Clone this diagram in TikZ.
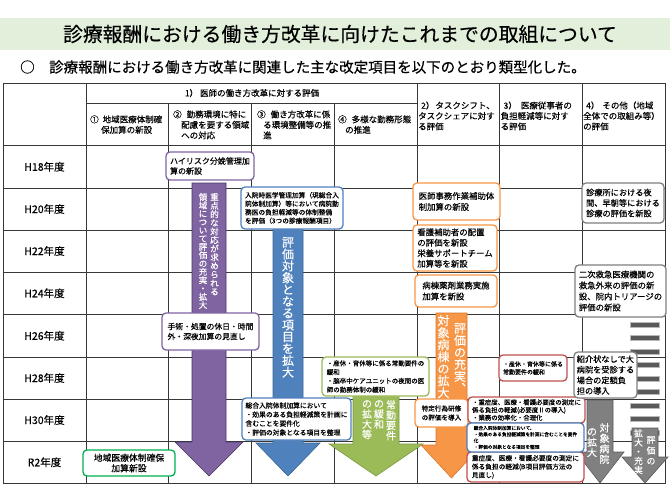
\documentclass[tikz,border=0pt]{standalone}
\usepackage{fontspec}
\setmainfont{Noto Sans CJK JP}[FakeBold=0.35]
\definecolor{titlebg}{RGB}{226,239,218}
\definecolor{purp}{RGB}{128,100,162}
\definecolor{purpd}{RGB}{70,52,98}
\definecolor{blu}{RGB}{79,129,189}
\definecolor{blud}{RGB}{60,100,150}
\definecolor{grn}{RGB}{155,187,89}
\definecolor{grnd}{RGB}{125,155,65}
\definecolor{org}{RGB}{247,150,70}
\definecolor{orgd}{RGB}{215,120,45}
\definecolor{redc}{RGB}{192,80,77}
\definecolor{gryf}{RGB}{128,128,128}
\definecolor{gryd}{RGB}{89,89,89}
\definecolor{gryb}{RGB}{127,127,127}
\definecolor{grn2}{RGB}{0,176,80}
\definecolor{gridc}{RGB}{55,55,55}

\ExplSyntaxOn
\NewDocumentCommand\vt{m}{
  \seq_clear:N \l_tmpa_seq
  \tl_map_inline:nn {#1} { \seq_put_right:Nn \l_tmpa_seq {##1} }
  \seq_use:Nn \l_tmpa_seq {\\}
}
\ExplSyntaxOff

\tikzset{
  box/.style={draw=#1, line width=1.3pt, rounded corners=4pt, fill=white, inner sep=1.5pt, align=left},
  fs/.style 2 args={font=\fontsize{#1}{#2}\selectfont},
  vtxt/.style 2 args={text=white, inner sep=0pt, align=center, anchor=north,
    font={\fontsize{#1}{#2}\selectfont\lineskiplimit=-20pt\lineskip=0pt}},
  gridl/.style={draw=gridc, line width=0.85pt},
  lbl/.style={font=\fontsize{10.5}{12}\selectfont, inner sep=0pt},
  hdr/.style={font=\fontsize{8.5}{10.5}\selectfont, inner sep=0pt, align=left, anchor=north west},
  blockarr/.style 2 args={fill=#1, draw=#2, line width=0.6pt},
}

\begin{document}
\begin{tikzpicture}[x=1pt,y=-1pt]
\useasboundingbox (0,0) rectangle (670,499);
\fill[white] (0,0) rectangle (670,499);

% title band
\fill[titlebg] (0,18) rectangle (670,50);
\node[font=\fontsize{19.8}{22}\selectfont, inner sep=0pt] (title) at (340,34) {診療報酬における働き方改革に向けたこれまでの取組について};
\node[font=\fontsize{14.5}{16}\selectfont, inner sep=0pt, anchor=west] (sub) at (20,67) {○　診療報酬における働き方改革に関連した主な改定項目を以下のとおり類型化した。};

% grid
\draw[gridl] (3,83) rectangle (665,483.5);
\foreach \x in {86,417,499.5,582} \draw[gridl] (\x,83) -- (\x,483.5);
\foreach \x in {168.5,251,334} \draw[gridl] (\x,103) -- (\x,483.5);
\draw[gridl] (86,103) -- (417,103);
\foreach \y in {145.5,188,230,272,314.5,357,399,441} \draw[gridl] (3,\y) -- (665,\y);

% header
\node[font=\fontsize{8.5}{10.5}\selectfont, inner sep=0pt] (h0) at (252,93) {1）\hspace{2pt}医師の働き方改革に対する評価};
\node[hdr] (h1) at (90,115.2) {①\hspace{4pt}地域医療体制確\\\hspace*{11pt}保加算の新設};
\node[hdr] (h2) at (173,110.2) {②\hspace{5pt}勤務環境に特に\\\hspace*{8pt}配慮を要する領域\\\hspace*{8pt}への対応};
\node[hdr] (h3) at (257,110.2) {③\hspace{5pt}働き方改革に係\\\hspace*{6pt}る環境整備等の推\\\hspace*{6pt}進};
\node[hdr] (h4) at (338,115.2) {④\hspace{5pt}多様な勤務形態\\\hspace*{7pt}の推進};
\node[hdr] (h5) at (418,101.2) {\hspace*{3pt}2）\hspace{1pt}タスクシフト、\\タスクシェアに対す\\る評価};
\node[hdr] (h6) at (500.5,101.2) {\hspace*{3pt}3）\hspace{4pt}医療従事者の\\負担軽減等に対す\\る評価};
\node[hdr] (h7) at (583,101.2) {\hspace*{3pt}4）\hspace{3pt}その他（地域\\全体での取組み等）\\の評価};

% row labels
\foreach \t/\y [count=\i] in {H18/166.75,H20/209,H22/251,H24/293.25,H26/335.75,H28/378,H30/420,R2/462.25}
  \node[lbl] (r\i) at (44.5,\y) {\t 年度};

% striped bars (column 4)
\foreach \y [count=\i] in {322,335.5,349,362.5,376,389.5,403,416.5,430}
  \draw[fill=gryd, draw=gray!55, line width=0.6pt] (630,\y) rectangle (659,\y+5);

% block arrows
\draw[blockarr={purp}{purpd}] (192,183) -- (226,183) -- (226,442) -- (243,442) -- (209,476) -- (175,442) -- (192,442) -- cycle;
\draw[blockarr={blu}{blud}] (273,228) -- (303,228) -- (303,443) -- (320,443) -- (288,476) -- (256,443) -- (273,443) -- cycle;
\draw[blockarr={grn}{grnd}] (353,395) -- (399,395) -- (399,444) -- (423,444) -- (376,476) -- (329,444) -- (353,444) -- cycle;
\draw[blockarr={org}{orgd}] (436,313) -- (467,313) -- (467,445) -- (482,445) -- (451.5,478) -- (421,445) -- (436,445) -- cycle;
\draw[blockarr={gryf}{gryd}] (587,400) -- (613,400) -- (613,452) -- (624,452) -- (600,483) -- (576,452) -- (587,452) -- cycle;
\draw[blockarr={gryf}{gryd}] (632,428) -- (658,428) -- (658,457) -- (668,457) -- (645,483) -- (622,457) -- (632,457) -- cycle;

% vertical texts on arrows
\node[vtxt={8.5}{8.6}] (pv1) at (214.5,193) {\vt{重点的な対応が求められる}};
\node[vtxt={8.5}{8.3}] (pv2) at (203,193) {\vt{領域について評価の充実・拡大}};
\node[vtxt={12}{11.8}] (bv1) at (288,237) {\vt{評価対象となる項目を拡大}};
\node[vtxt={10}{10.3}] (gv1) at (391,400) {\vt{常勤要件}};
\node[vtxt={10}{10.3}] (gv2) at (379,400) {\vt{の緩和}};
\node[vtxt={10}{10.3}] (gv3) at (367,400) {\vt{の拡大等}};
\node[vtxt={12}{12}] (ov1) at (460,323) {\vt{評価の充実︑}};
\node[vtxt={12}{12}] (ov2) at (443.5,315) {\vt{対象病棟の拡大}};
\node[vtxt={10}{10.5}] (av1) at (604.5,423) {\vt{対象病院}};
\node[vtxt={10}{10.5}] (av2) at (592,428) {\vt{の拡大}};
\node[vtxt={8.8}{10.5}] (cv1) at (651,436) {\vt{評価の}};
\node[vtxt={8.8}{9.2}] (cv2) at (638.5,429) {\vt{拡大・充実}};

% boxes: purple
\node[box=purp, fs={8}{10}, minimum width=88pt, minimum height=28pt] (b1) at (210,166) {ハイリスク分娩管理加\\算の新設};
\node[box=purp, fs={7.8}{10}, minimum width=97pt, minimum height=37pt] (b2) at (210.5,331.5) {手術・処置の休日・時間\\外・深夜加算の見直し};
% blue
\node[box=blu, fs={6.7}{8.5}, minimum width=102pt, minimum height=42pt] (b3) at (292,208) {入院時医学管理加算（現総合入\\院体制加算）等において病院勤\\務医の負担軽減等の体制整備\\を評価（3つの診療報酬項目）};
\node[box=blu, fs={6.8}{9}, minimum width=109pt, minimum height=42pt] (b4) at (296.5,419) {総合入院体制加算において\\・効果のある負担軽減策を計画に\\含むことを要件化\\・評価の対象となる項目を整理};
% green
\node[box=grn, fs={6.5}{8.8}, minimum width=107pt, minimum height=39pt] (b5) at (375.5,376.5) {・産休・育休等に係る常勤要件の\\緩和\\・脳卒中ケアユニットの夜間の医\\師の勤務体制の緩和};
% orange
\node[box=org, fs={8.4}{11}, minimum width=87pt, minimum height=37pt] (b6) at (456.5,201.5) {医師事務作業補助体\\制加算の新設};
\node[box=org, fs={8.4}{10.5}, minimum width=84pt, minimum height=46pt] (b7) at (455,248) {看護補助者の配置\\の評価を新設\\栄養サポートチーム\\加算等を新設};
\node[box=org, fs={8.4}{11}, minimum width=82pt, minimum height=32pt] (b8) at (456,291) {病棟薬剤業務実施\\加算を新設};
\node[box=org, fs={6.6}{9}, minimum width=53pt, minimum height=28pt] (b9) at (441.5,413) {特定行為研修\\の評価を導入};
% red and blue (column 3)
\node[box=redc, fs={6}{8}, minimum width=68pt, minimum height=26pt] (b10) at (533,368) {・産休・育休等に係る\\常勤要件の緩和};
\node[box=redc, fs={6.4}{7.7}, minimum width=117pt, minimum height=26pt] (b11) at (526.5,410) {・重症度、医療・看護必要度の測定に\\係る負担の軽減(必要度Ⅱの導入)\\・業務の効率化・合理化};
\node[box=redc, fs={6.7}{8.5}, minimum width=117pt, minimum height=30pt] (b13) at (525.5,467) {重症度、医療・看護必要度の測定に\\係る負担の軽減(B項目評価方法の\\見直し)};
\node[box=blu, fs={4.7}{6.3}, minimum width=117pt, minimum height=29pt] (b12) at (525.5,437.5) {総合入院体制加算において、\\・効果のある負担軽減策を計画に含むことを要件\\化\\・評価の対象となる項目を整理};
% grey
\node[box=gryb, fs={8.2}{10.5}, minimum width=82pt, minimum height=40pt] (b14) at (623,203) {診療所における夜\\間、早朝等における\\診療の評価を新設};
\node[box=gryb, fs={8.4}{11}, minimum width=91pt, minimum height=52pt] (b15) at (620.5,291) {二次救急医療機関の\\救急外来の評価の新\\設、院内トリアージの\\評価の新設};
\node[box=gryb, fs={8.2}{10.6}, minimum width=63pt, minimum height=46pt] (b16) at (605.5,375) {紹介状なしで大\\病院を受診する\\場合の定額負\\担の導入};
% green (R2)
\node[box=grn2, fs={8.8}{10.5}, align=center, minimum width=92pt, minimum height=26pt] (b17) at (129,463) {地域医療体制確保\\加算新設};
\end{tikzpicture}
\end{document}
